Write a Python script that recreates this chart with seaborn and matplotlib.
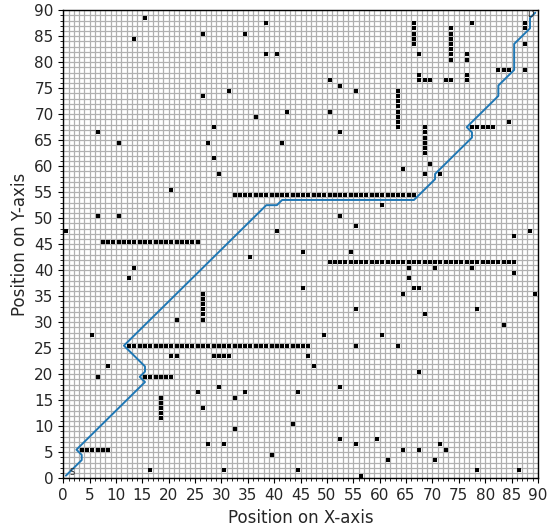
import matplotlib
matplotlib.use("Agg")
import matplotlib.pyplot as plt
import seaborn as sns
import numpy as np
import pandas as pd

# --- grid size ---
grid_size = 90

# single obstacle cells (x, y)
single_obstacles = [
    (15, 88), (13, 84), (26, 85), (26, 73), (28, 67), (27, 64), (28, 61), (6, 66), (10, 64),
    (38, 87), (34, 85), (38, 81), (40, 81), (50, 76), (52, 75), (55, 74), (31, 74), (42, 70),
    (50, 70), (36, 69), (52, 66), (41, 64),
    (67, 81), (77, 87), (67, 77), (67, 76), (68, 76), (69, 76), (72, 76), (73, 76),
    (76, 81), (76, 80), (76, 77), (76, 76), (87, 87), (87, 86), (87, 83), (87, 78),
    (82, 78), (83, 78), (84, 78), (84, 68), (69, 60), (64, 59),
    (29, 58), (20, 55), (6, 50), (10, 50), (0, 47), (13, 40), (12, 38), (21, 30),
    (60, 52), (52, 50), (55, 48), (40, 47), (45, 43), (54, 43), (35, 42), (45, 36), (55, 32),
    (68, 58), (71, 58), (88, 47), (85, 46), (65, 40), (70, 40), (77, 40), (85, 39), (65, 38),
    (66, 36), (67, 36), (64, 35), (89, 35), (78, 32), (68, 31), (83, 29),
    (5, 27), (20, 23), (21, 23), (8, 21), (6, 19), (29, 17), (25, 16), (26, 13), (27, 6),
    (30, 6), (16, 1), (30, 1),
    (49, 27), (60, 27), (55, 25), (46, 23), (47, 21), (52, 17), (32, 15), (34, 16), (44, 16),
    (32, 9), (43, 10), (39, 4), (52, 7), (55, 6), (59, 7), (44, 1), (56, 0), (61, 3),
    (63, 25), (67, 20), (64, 5), (67, 5), (71, 6), (72, 5), (70, 3), (78, 1), (86, 1),
]

# horizontal walls: (row y, first x, last x)
h_walls = [(45, 7, 25), (54, 32, 66), (41, 50, 85), (25, 12, 46), (23, 28, 31),
           (19, 15, 20), (5, 3, 8), (67, 77, 81)]
# vertical walls: (column x, first y, last y)
v_walls = [(66, 83, 87), (73, 80, 86), (63, 67, 74), (68, 62, 67), (26, 30, 35), (18, 11, 15)]

# path corner cells
path_x = [0, 3, 3, 2, 3, 15, 14, 15, 15, 11, 38, 40, 41, 66, 70, 70, 77, 77, 76, 77, 82, 82, 85, 85, 88, 88, 89]
path_y = [0, 3, 4, 5, 6, 18, 19, 20, 21, 25, 52, 52, 53, 53, 57, 58, 65, 66, 67, 68, 73, 75, 78, 83, 86, 88, 89]

start = (0, 0)
goal = (89, 89)

cells = list(single_obstacles)
for y, x0, x1 in h_walls:
    cells += [(x, y) for x in range(x0, x1 + 1)]
for x, y0, y1 in v_walls:
    cells += [(x, y) for y in range(y0, y1 + 1)]
obs_df = pd.DataFrame(cells, columns=["x", "y"])

sns.set_theme(style="ticks")
plt.rcParams['font.family'] = ['DejaVu Sans']

fig, ax = plt.subplots(figsize=(5.5, 5.32), dpi=100)
fig.subplots_adjust(left=0.115, right=0.978, bottom=0.101, top=0.981)

sns.scatterplot(data=obs_df, x=obs_df["x"] + 0.5, y=obs_df["y"] + 0.5, marker="s",
                color="black", s=11, linewidth=0, ax=ax, zorder=3)
sns.lineplot(x=np.array(path_x) + 0.5, y=np.array(path_y) + 0.5, sort=False,
             estimator=None, color="#1f77b4", linewidth=1.4, ax=ax, zorder=4)

ax.text(start[0] + 1.6, start[1] + 1.2, "S", fontsize=6, ha="center", va="center", zorder=5)
ax.text(goal[0] - 0.4, goal[1] + 0.1, "D", fontsize=6, ha="center", va="center", zorder=5)

ax.set_xlim(0, grid_size)
ax.set_ylim(0, grid_size)
ax.set_xticks(np.arange(0, grid_size + 1, 5))
ax.set_yticks(np.arange(0, grid_size + 1, 5))
ax.set_xticks(np.arange(0, grid_size + 1, 1), minor=True)
ax.set_yticks(np.arange(0, grid_size + 1, 1), minor=True)
ax.grid(which="both", color="#b0b0b0", linewidth=0.9)
ax.set_axisbelow(True)
ax.tick_params(which="major", length=3.5, width=0.8, labelsize=11, color="black")
ax.tick_params(which="minor", length=2, width=0.6, color="black")
for sp in ax.spines.values():
    sp.set_color("black")
    sp.set_linewidth(1.0)

ax.set_xlabel("Position on X-axis", fontsize=12)
ax.set_ylabel("Position on Y-axis", fontsize=12)

fig.savefig("out.png", dpi=100)
